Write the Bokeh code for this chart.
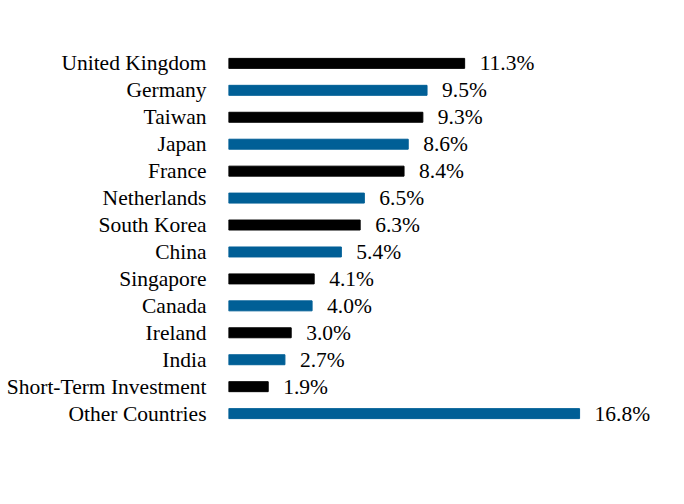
from bokeh.plotting import figure
from bokeh.models import ColumnDataSource, Range1d, Label, FixedTicker
from bokeh.embed import file_html
from bokeh.resources import INLINE

# Country allocation (percent of portfolio), listed top to bottom
countries = ["United Kingdom", "Germany", "Taiwan", "Japan", "France", "Netherlands",
             "South Korea", "China", "Singapore", "Canada", "Ireland", "India",
             "Short-Term Investment", "Other Countries"]
weights = [11.3, 9.5, 9.3, 8.6, 8.4, 6.5, 6.3, 5.4, 4.1, 4.0, 3.0, 2.7, 1.9, 16.8]
palette = ["#000000", "#005f96"]

n = len(countries)
rows = [n - 1 - i for i in range(n)]          # first country on the top row
colors = [palette[i % 2] for i in range(n)]
labels = [f"{w:.1f}%" for w in weights]

source = ColumnDataSource(dict(row=rows, weight=weights, color=colors))

FONT = "Liberation Serif"
SIZE = "21.5px"
WIDTH, HEIGHT = 684, 504
LEFT = 228
X_MAX = 21.82
GAP_PX = 15
gap = GAP_PX * X_MAX / (WIDTH - LEFT)         # label gap in data units

p = figure(width=WIDTH, height=HEIGHT, output_backend="svg", toolbar_location=None,
           y_range=Range1d(-2, n + 1), x_range=Range1d(0, X_MAX),
           min_border_left=LEFT, min_border_right=0,
           min_border_top=9, min_border_bottom=37)

p.hbar(y="row", right="weight", left=0, height=0.37, color="color", source=source)

# value labels just past the end of each bar
for r, w, text in zip(rows, weights, labels):
    p.add_layout(Label(x=w + gap, y=r, text=text,
                       text_baseline="middle",
                       text_font=FONT, text_font_size=SIZE, text_color="#000000"))

p.xaxis.visible = False
p.yaxis.ticker = FixedTicker(ticks=rows)
p.yaxis.major_label_overrides = {r: c for r, c in zip(rows, countries)}
p.yaxis.axis_line_color = None
p.yaxis.major_tick_line_color = None
p.yaxis.minor_tick_line_color = None
p.yaxis.major_tick_out = 0
p.yaxis.minor_tick_out = 0
p.yaxis.major_label_standoff = 22
p.yaxis.major_label_text_font = FONT
p.yaxis.major_label_text_font_size = SIZE
p.yaxis.major_label_text_color = "#000000"
p.xgrid.visible = False
p.ygrid.visible = False
p.outline_line_color = None
p.background_fill_color = "white"
p.border_fill_color = "white"

open("out.html", "w").write(file_html(p, INLINE))
